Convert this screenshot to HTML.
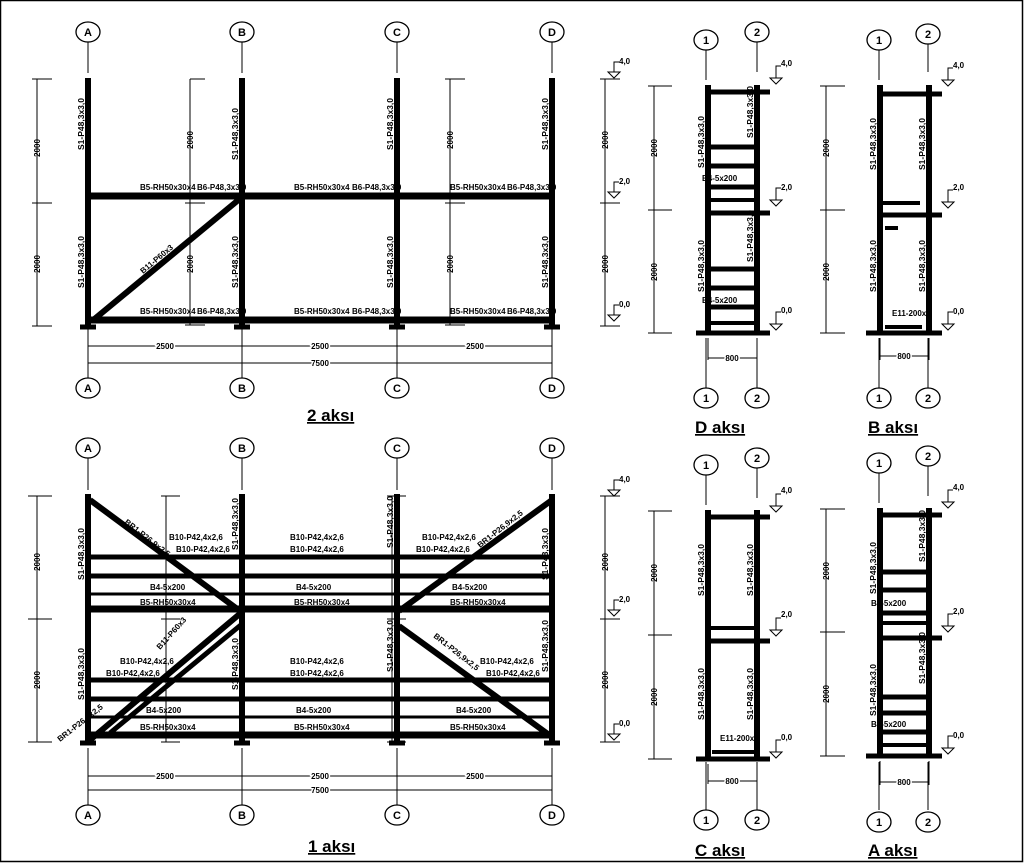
<!DOCTYPE html>
<html><head><meta charset="utf-8"><style>
html,body{margin:0;padding:0;background:#fff}
svg{display:block}
text{font-family:"Liberation Sans",sans-serif;fill:#000}
.c{stroke:#000;stroke-width:6;fill:none}
.b{stroke:#000;stroke-width:7;fill:none}
.m{stroke:#000;stroke-width:5;fill:none}
.t{stroke:#000;stroke-width:1;fill:none}
.s{font-size:8px;font-weight:bold}
.v{font-size:8.5px;font-weight:bold}
.bub{fill:#fff;stroke:#000;stroke-width:1.3}
.bt{font-size:11px;font-weight:bold;text-anchor:middle}
.ttl{font-size:17px;font-weight:bold;text-decoration:underline}
</style></head><body>
<svg width="1024" height="863" viewBox="0 0 1024 863" xmlns="http://www.w3.org/2000/svg">
<rect x="0.5" y="0.5" width="1022" height="861" fill="none" stroke="#000" stroke-width="1.5"/>

<!-- ============ 2 AKSI ============ -->
<g>
<path class="t" d="M88 42V73 M242 42V73 M397 42V73 M552 42V73 M88 328V378 M242 328V378 M397 328V378 M552 328V378"/>
<g><ellipse class="bub" cx="88" cy="32" rx="12" ry="10"/><text class="bt" x="88" y="36">A</text>
<ellipse class="bub" cx="242" cy="32" rx="12" ry="10"/><text class="bt" x="242" y="36">B</text>
<ellipse class="bub" cx="397" cy="32" rx="12" ry="10"/><text class="bt" x="397" y="36">C</text>
<ellipse class="bub" cx="552" cy="32" rx="12" ry="10"/><text class="bt" x="552" y="36">D</text>
<ellipse class="bub" cx="88" cy="388" rx="12" ry="10"/><text class="bt" x="88" y="392">A</text>
<ellipse class="bub" cx="242" cy="388" rx="12" ry="10"/><text class="bt" x="242" y="392">B</text>
<ellipse class="bub" cx="397" cy="388" rx="12" ry="10"/><text class="bt" x="397" y="392">C</text>
<ellipse class="bub" cx="552" cy="388" rx="12" ry="10"/><text class="bt" x="552" y="392">D</text></g>
<path class="c" d="M88 78V325 M242 78V325 M397 78V325 M552 78V325"/>
<path class="b" d="M88 196H552 M88 320H552"/>
<path class="c" d="M92 321L242 197"/>
<path class="m" d="M80 327H96 M234 327H250 M389 327H405 M544 327H560"/>
<path class="t" d="M37 79V326 M32 79H52 M32 203H52 M32 326H52 M190 79V325 M190 79H205 M185 203H205 M185 325H205 M450 79V325 M445 79H465 M445 203H465 M445 325H465 M605 79V326 M600 79H620 M600 203H620 M600 326H620"/>
<text class="s" transform="translate(40,148) rotate(-90)" text-anchor="middle">2000</text>
<text class="s" transform="translate(40,264) rotate(-90)" text-anchor="middle">2000</text>
<text class="s" transform="translate(193,140) rotate(-90)" text-anchor="middle">2000</text>
<text class="s" transform="translate(193,264) rotate(-90)" text-anchor="middle">2000</text>
<text class="s" transform="translate(453,140) rotate(-90)" text-anchor="middle">2000</text>
<text class="s" transform="translate(453,264) rotate(-90)" text-anchor="middle">2000</text>
<text class="s" transform="translate(608,140) rotate(-90)" text-anchor="middle">2000</text>
<text class="s" transform="translate(608,264) rotate(-90)" text-anchor="middle">2000</text>
<g class="t"><path d="M614 72V62H619 M608 72H620L614 78Z M614 192V182H619 M608 192H620L614 198Z M614 315V305H619 M608 315H620L614 321Z"/></g>
<text class="s" x="619" y="64">4,0</text><text class="s" x="619" y="184">2,0</text><text class="s" x="619" y="307">0,0</text>
<path class="t" d="M88 346H552 M88 363H552 M88 343V349 M242 343V349 M397 343V349 M552 343V349"/>
<text class="s" x="165" y="349" text-anchor="middle" style="paint-order:stroke;stroke:#fff;stroke-width:3">2500</text>
<text class="s" x="320" y="349" text-anchor="middle" style="paint-order:stroke;stroke:#fff;stroke-width:3">2500</text>
<text class="s" x="475" y="349" text-anchor="middle" style="paint-order:stroke;stroke:#fff;stroke-width:3">2500</text>
<text class="s" x="320" y="366" text-anchor="middle" style="paint-order:stroke;stroke:#fff;stroke-width:3">7500</text>
<text class="v" transform="translate(84,150) rotate(-90)">S1-P48,3x3,0</text>
<text class="v" transform="translate(84,288) rotate(-90)">S1-P48,3x3,0</text>
<text class="v" transform="translate(238,160) rotate(-90)">S1-P48,3x3,0</text>
<text class="v" transform="translate(238,288) rotate(-90)">S1-P48,3x3,0</text>
<text class="v" transform="translate(393,150) rotate(-90)">S1-P48,3x3,0</text>
<text class="v" transform="translate(393,288) rotate(-90)">S1-P48,3x3,0</text>
<text class="v" transform="translate(548,150) rotate(-90)">S1-P48,3x3,0</text>
<text class="v" transform="translate(548,288) rotate(-90)">S1-P48,3x3,0</text>
<text class="s" x="140" y="190">B5-RH50x30x4</text><text class="s" x="197" y="190">B6-P48,3x3,0</text>
<text class="s" x="294" y="190">B5-RH50x30x4</text><text class="s" x="352" y="190">B6-P48,3x3,0</text>
<text class="s" x="450" y="190">B5-RH50x30x4</text><text class="s" x="507" y="190">B6-P48,3x3,0</text>
<text class="s" x="140" y="314">B5-RH50x30x4</text><text class="s" x="197" y="314">B6-P48,3x3,0</text>
<text class="s" x="294" y="314">B5-RH50x30x4</text><text class="s" x="352" y="314">B6-P48,3x3,0</text>
<text class="s" x="450" y="314">B5-RH50x30x4</text><text class="s" x="507" y="314">B6-P48,3x3,0</text>
<text class="s" transform="translate(143,274) rotate(-40)">B11-P60x3</text>
<text class="ttl" x="307" y="421">2 aksı</text>
</g>

<!-- ============ 1 AKSI ============ -->
<g>
<path class="t" d="M88 458V490 M242 458V490 M397 458V490 M552 458V490 M88 748V806 M242 748V806 M397 748V806 M552 748V806"/>
<ellipse class="bub" cx="88" cy="448" rx="12" ry="10"/><text class="bt" x="88" y="452">A</text>
<ellipse class="bub" cx="242" cy="448" rx="12" ry="10"/><text class="bt" x="242" y="452">B</text>
<ellipse class="bub" cx="397" cy="448" rx="12" ry="10"/><text class="bt" x="397" y="452">C</text>
<ellipse class="bub" cx="552" cy="448" rx="12" ry="10"/><text class="bt" x="552" y="452">D</text>
<ellipse class="bub" cx="88" cy="815" rx="12" ry="10"/><text class="bt" x="88" y="819">A</text>
<ellipse class="bub" cx="242" cy="815" rx="12" ry="10"/><text class="bt" x="242" y="819">B</text>
<ellipse class="bub" cx="397" cy="815" rx="12" ry="10"/><text class="bt" x="397" y="819">C</text>
<ellipse class="bub" cx="552" cy="815" rx="12" ry="10"/><text class="bt" x="552" y="819">D</text>
<path class="c" d="M88 494V742 M242 494V742 M397 494V742 M552 494V742"/>
<path class="m" d="M88 557H552 M88 576H552 M88 680H552 M88 699H552"/>
<path class="t" d="M88 594H552 M88 717H552" style="stroke-width:3"/>
<path class="b" d="M88 609H552 M88 735H552"/>
<path class="m" d="M80 743H96 M234 743H250 M389 743H405 M544 743H560"/>
<path class="c" d="M90 500L240 611 M90 740L242 612 M552 500L399 611 M399 626L552 737"/>
<path class="m" d="M110 733L242 624"/>
<path class="t" d="M37 496V742 M28 496H52 M28 619H52 M28 742H52 M166 496V742 M161 496H180 M161 619H180 M161 742H180 M392 496V742 M387 496H406 M387 619H406 M387 742H406 M605 496V742 M600 496H620 M600 619H620 M600 742H620"/>
<text class="s" transform="translate(40,562) rotate(-90)" text-anchor="middle">2000</text>
<text class="s" transform="translate(40,680) rotate(-90)" text-anchor="middle">2000</text>
<text class="s" transform="translate(608,562) rotate(-90)" text-anchor="middle">2000</text>
<text class="s" transform="translate(608,680) rotate(-90)" text-anchor="middle">2000</text>
<g class="t"><path d="M614 490V480H619 M608 490H620L614 496Z M614 610V600H619 M608 610H620L614 616Z M614 734V724H619 M608 734H620L614 740Z"/></g>
<text class="s" x="619" y="482">4,0</text><text class="s" x="619" y="602">2,0</text><text class="s" x="619" y="726">0,0</text>
<path class="t" d="M88 776H552 M88 790H552 M88 773V779 M242 773V779 M397 773V779 M552 773V779"/>
<text class="s" x="165" y="779" text-anchor="middle" style="paint-order:stroke;stroke:#fff;stroke-width:3">2500</text>
<text class="s" x="320" y="779" text-anchor="middle" style="paint-order:stroke;stroke:#fff;stroke-width:3">2500</text>
<text class="s" x="475" y="779" text-anchor="middle" style="paint-order:stroke;stroke:#fff;stroke-width:3">2500</text>
<text class="s" x="320" y="793" text-anchor="middle" style="paint-order:stroke;stroke:#fff;stroke-width:3">7500</text>
<text class="v" transform="translate(84,580) rotate(-90)">S1-P48,3x3,0</text>
<text class="v" transform="translate(84,700) rotate(-90)">S1-P48,3x3,0</text>
<text class="v" transform="translate(238,550) rotate(-90)">S1-P48,3x3,0</text>
<text class="v" transform="translate(238,690) rotate(-90)">S1-P48,3x3,0</text>
<text class="v" transform="translate(393,548) rotate(-90)">S1-P48,3x3,0</text>
<text class="v" transform="translate(393,672) rotate(-90)">S1-P48,3x3,0</text>
<text class="v" transform="translate(548,580) rotate(-90)">S1-P48,3x3,0</text>
<text class="v" transform="translate(548,672) rotate(-90)">S1-P48,3x3,0</text>
<text class="s" x="169" y="540">B10-P42,4x2,6</text><text class="s" x="176" y="552">B10-P42,4x2,6</text>
<text class="s" x="290" y="540">B10-P42,4x2,6</text><text class="s" x="290" y="552">B10-P42,4x2,6</text>
<text class="s" x="422" y="540">B10-P42,4x2,6</text><text class="s" x="416" y="552">B10-P42,4x2,6</text>
<text class="s" x="120" y="664">B10-P42,4x2,6</text><text class="s" x="106" y="676">B10-P42,4x2,6</text>
<text class="s" x="290" y="664">B10-P42,4x2,6</text><text class="s" x="290" y="676">B10-P42,4x2,6</text>
<text class="s" x="480" y="664">B10-P42,4x2,6</text><text class="s" x="486" y="676">B10-P42,4x2,6</text>
<text class="s" x="150" y="590">B4-5x200</text><text class="s" x="296" y="590">B4-5x200</text><text class="s" x="452" y="590">B4-5x200</text>
<text class="s" x="140" y="605">B5-RH50x30x4</text><text class="s" x="294" y="605">B5-RH50x30x4</text><text class="s" x="450" y="605">B5-RH50x30x4</text>
<text class="s" x="146" y="713">B4-5x200</text><text class="s" x="296" y="713">B4-5x200</text><text class="s" x="456" y="713">B4-5x200</text>
<text class="s" x="140" y="730">B5-RH50x30x4</text><text class="s" x="294" y="730">B5-RH50x30x4</text><text class="s" x="450" y="730">B5-RH50x30x4</text>
<text class="s" transform="translate(124,523) rotate(38)">BR1-P26,9x2,5</text>
<text class="s" transform="translate(480,548) rotate(-38)">BR1-P26,9x2,5</text>
<text class="s" transform="translate(433,637) rotate(38)">BR1-P26,9x2,5</text>
<text class="s" transform="translate(60,742) rotate(-38)">BR1-P26,9x2,5</text>
<text class="s" transform="translate(160,650) rotate(-48)">B11-P60x3</text>
<text class="ttl" x="308" y="852">1 aksı</text>
</g>

<!-- D aksi -->
<g>
<path class="t" d="M706 50V80 M757 42V72 M706 338V388 M757 338V388"/>
<ellipse class="bub" cx="706" cy="40" rx="12" ry="10"/><text class="bt" x="706" y="44">1</text>
<ellipse class="bub" cx="757" cy="32" rx="12" ry="10"/><text class="bt" x="757" y="36">2</text>
<ellipse class="bub" cx="706" cy="398" rx="12" ry="10"/><text class="bt" x="706" y="402">1</text>
<ellipse class="bub" cx="757" cy="398" rx="12" ry="10"/><text class="bt" x="757" y="402">2</text>
<path class="c" d="M708 85V333 M757 85V333"/>
<path class="m" d="M708 92H770 M708 213H770 M696 333H770"/>
<path class="m" d="M708 147H757 M708 166H757 M708 187H757 M708 269H757 M708 288H757 M708 307H757"/>
<path class="b" d="M708 200H757 M708 323H757" style="stroke-width:4"/>
<path class="t" d="M654 86V333 M648 86H672 M648 210H672 M648 333H672 M708 338V360 M757 338V360 M708 358H757"/>
<text class="s" transform="translate(657,148) rotate(-90)" text-anchor="middle">2000</text>
<text class="s" transform="translate(657,272) rotate(-90)" text-anchor="middle">2000</text>
<text class="s" x="732" y="361" text-anchor="middle" style="paint-order:stroke;stroke:#fff;stroke-width:3">800</text>
<g class="t"><path d="M776 78V66H781 M770 78H782L776 84Z M776 200V188H781 M770 200H782L776 206Z M776 324V312H781 M770 324H782L776 330Z"/></g>
<text class="s" x="781" y="66">4,0</text><text class="s" x="781" y="190">2,0</text><text class="s" x="781" y="313">0,0</text>
<text class="v" transform="translate(704,168) rotate(-90)">S1-P48,3x3,0</text>
<text class="v" transform="translate(753,138) rotate(-90)">S1-P48,3x3,0</text>
<text class="v" transform="translate(704,292) rotate(-90)">S1-P48,3x3,0</text>
<text class="v" transform="translate(753,262) rotate(-90)">S1-P48,3x3,0</text>
<text class="s" x="702" y="181">B4-5x200</text><text class="s" x="702" y="303">B4-5x200</text>
<text class="ttl" x="695" y="433">D aksı</text>
</g>
<!-- B aksi -->
<g>
<path class="t" d="M879 50V80 M928 42V72 M879 338V388 M928 338V388"/>
<ellipse class="bub" cx="879" cy="40" rx="12" ry="10"/><text class="bt" x="879" y="44">1</text>
<ellipse class="bub" cx="928" cy="34" rx="12" ry="10"/><text class="bt" x="928" y="38">2</text>
<ellipse class="bub" cx="879" cy="398" rx="12" ry="10"/><text class="bt" x="879" y="402">1</text>
<ellipse class="bub" cx="928" cy="398" rx="12" ry="10"/><text class="bt" x="928" y="402">2</text>
<path class="c" d="M880 85V333 M929 85V333"/>
<path class="m" d="M880 94H942 M880 215H942 M866 333H942"/>
<path class="m" d="M882 203H920 M885 228H898 M885 327H922" style="stroke-width:4"/>
<path class="t" d="M826 86V333 M820 86H845 M820 210H845 M820 333H845 M880 338V360 M929 338V360 M880 356H929"/>
<text class="s" transform="translate(829,148) rotate(-90)" text-anchor="middle">2000</text>
<text class="s" transform="translate(829,272) rotate(-90)" text-anchor="middle">2000</text>
<text class="s" x="904" y="359" text-anchor="middle" style="paint-order:stroke;stroke:#fff;stroke-width:3">800</text>
<g class="t"><path d="M948 80V68H953 M942 80H954L948 86 Z M948 202V190H953 M942 202H954L948 208Z M948 324V312H953 M942 324H954L948 330Z"/></g>
<text class="s" x="953" y="68">4,0</text><text class="s" x="953" y="190">2,0</text><text class="s" x="953" y="314">0,0</text>
<text class="v" transform="translate(876,170) rotate(-90)">S1-P48,3x3,0</text>
<text class="v" transform="translate(925,170) rotate(-90)">S1-P48,3x3,0</text>
<text class="v" transform="translate(876,292) rotate(-90)">S1-P48,3x3,0</text>
<text class="v" transform="translate(925,292) rotate(-90)">S1-P48,3x3,0</text>
<text class="s" x="892" y="316">E11-200x1</text>
<text class="ttl" x="868" y="433">B aksı</text>
</g>
<!-- C aksi -->
<g>
<path class="t" d="M706 475V505 M757 468V498 M706 762V810 M757 762V810"/>
<ellipse class="bub" cx="706" cy="465" rx="12" ry="10"/><text class="bt" x="706" y="469">1</text>
<ellipse class="bub" cx="757" cy="458" rx="12" ry="10"/><text class="bt" x="757" y="462">2</text>
<ellipse class="bub" cx="706" cy="820" rx="12" ry="10"/><text class="bt" x="706" y="824">1</text>
<ellipse class="bub" cx="757" cy="820" rx="12" ry="10"/><text class="bt" x="757" y="824">2</text>
<path class="c" d="M708 510V759 M757 510V759"/>
<path class="m" d="M708 517H770 M708 641H770 M696 759H770"/>
<path class="m" d="M710 628H754 M712 752H754" style="stroke-width:4"/>
<path class="t" d="M654 511V759 M648 511H672 M648 635H672 M648 759H672 M708 764V784 M757 764V784 M708 781H757"/>
<text class="s" transform="translate(657,573) rotate(-90)" text-anchor="middle">2000</text>
<text class="s" transform="translate(657,697) rotate(-90)" text-anchor="middle">2000</text>
<text class="s" x="732" y="784" text-anchor="middle" style="paint-order:stroke;stroke:#fff;stroke-width:3">800</text>
<g class="t"><path d="M776 506V494H781 M770 506H782L776 512Z M776 630V618H781 M770 630H782L776 636Z M776 752V740H781 M770 752H782L776 758Z"/></g>
<text class="s" x="781" y="493">4,0</text><text class="s" x="781" y="617">2,0</text><text class="s" x="781" y="740">0,0</text>
<text class="v" transform="translate(704,596) rotate(-90)">S1-P48,3x3,0</text>
<text class="v" transform="translate(753,596) rotate(-90)">S1-P48,3x3,0</text>
<text class="v" transform="translate(704,720) rotate(-90)">S1-P48,3x3,0</text>
<text class="v" transform="translate(753,720) rotate(-90)">S1-P48,3x3,0</text>
<text class="s" x="720" y="741">E11-200x1</text>
<text class="ttl" x="695" y="856">C aksı</text>
</g>
<!-- A aksi -->
<g>
<path class="t" d="M879 473V503 M928 466V496 M879 762V810 M928 762V810"/>
<ellipse class="bub" cx="879" cy="463" rx="12" ry="10"/><text class="bt" x="879" y="467">1</text>
<ellipse class="bub" cx="928" cy="456" rx="12" ry="10"/><text class="bt" x="928" y="460">2</text>
<ellipse class="bub" cx="879" cy="822" rx="12" ry="10"/><text class="bt" x="879" y="826">1</text>
<ellipse class="bub" cx="928" cy="822" rx="12" ry="10"/><text class="bt" x="928" y="826">2</text>
<path class="c" d="M880 508V756 M929 508V756"/>
<path class="m" d="M880 515H942 M880 638H942 M866 756H942"/>
<path class="m" d="M880 572H929 M880 590H929 M880 613H929 M880 697H929 M880 713H929 M880 732H929"/>
<path class="m" d="M882 623H926 M882 745H926" style="stroke-width:4"/>
<path class="t" d="M826 509V756 M820 509H845 M820 632H845 M820 756H845 M880 761V785 M929 761V785 M880 782H929"/>
<text class="s" transform="translate(829,571) rotate(-90)" text-anchor="middle">2000</text>
<text class="s" transform="translate(829,694) rotate(-90)" text-anchor="middle">2000</text>
<text class="s" x="904" y="785" text-anchor="middle" style="paint-order:stroke;stroke:#fff;stroke-width:3">800</text>
<g class="t"><path d="M948 502V490H953 M942 502H954L948 508Z M948 626V614H953 M942 626H954L948 632Z M948 748V736H953 M942 748H954L948 754Z"/></g>
<text class="s" x="953" y="490">4,0</text><text class="s" x="953" y="614">2,0</text><text class="s" x="953" y="738">0,0</text>
<text class="v" transform="translate(876,594) rotate(-90)">S1-P48,3x3,0</text>
<text class="v" transform="translate(925,562) rotate(-90)">S1-P48,3x3,0</text>
<text class="v" transform="translate(876,716) rotate(-90)">S1-P48,3x3,0</text>
<text class="v" transform="translate(925,684) rotate(-90)">S1-P48,3x3,0</text>
<text class="s" x="871" y="606">B4-5x200</text><text class="s" x="871" y="727">B4-5x200</text>
<text class="ttl" x="868" y="856">A aksı</text>
</g>
</svg>
</body></html>
